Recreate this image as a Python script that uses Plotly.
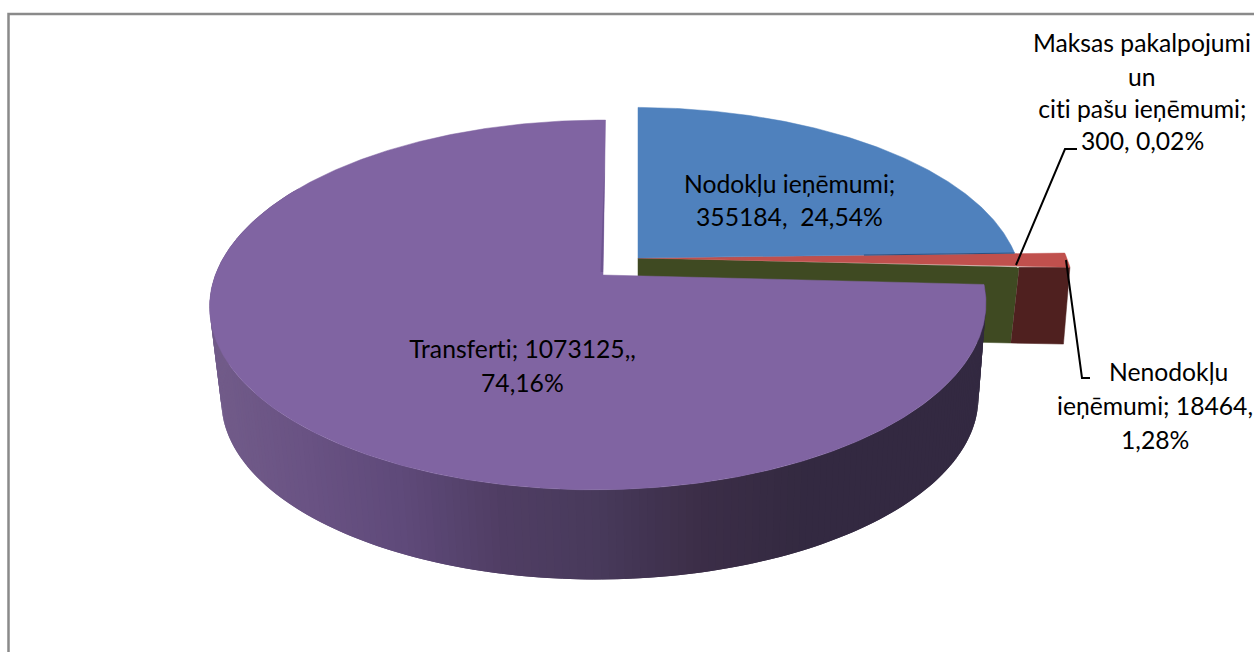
import numpy as np
import plotly.graph_objects as go

# Data (order as drawn, clockwise from 12 o'clock)
categories = ["Nodokļu ieņēmumi", "Nenodokļu ieņēmumi", "Maksas pakalpojumi un citi pašu ieņēmumi", "Transferti"]
values = [355184, 18464, 300, 1073125]

# Label lines (text, x, y)
label_text = ["Maksas pakalpojumi", "un", "citi pašu ieņēmumi;", "300, 0,02%",
              "Nodokļu ieņēmumi;", "355184,\u00a0 24,54%",
              "Transferti; 1073125,,", "74,16%",
              "Nenodokļu", "ieņēmumi; 18464,", "1,28%"]
label_x = [1142, 1142, 1142, 1142, 789, 789, 522, 522, 1168, 1155, 1155]
label_y = [42, 76, 108, 140, 183, 216, 348, 382, 371, 405, 439]

FONT = "Lato"
FS = 24.7
K, Q = 0.162, 0.012

# slice boundaries from the values
total = sum(values)
edges = 360 * np.concatenate([[0], np.cumsum(values)]) / total


def proj(theta, R, a, m=0.0):
    t = np.radians(theta)
    u, v = np.sin(t), np.cos(t)
    w = 1 + K * v + Q * u
    return (R * u + m * v) / w, a * v / w


def wedge(t0, t1, ax, ay, R, a, m=0.0):
    th = np.linspace(t0, t1, max(3, int(abs(t1 - t0) * 2)))
    X, Y = proj(th, R, a, m)
    return np.r_[ax, ax + X, ax], np.r_[ay, ay - Y, ay]


fig = go.Figure()


def poly(x, y, color, line=0.0):
    fig.add_trace(go.Scatter(x=x, y=y, mode="lines", fill="toself", fillcolor=color,
                             line=dict(color=color, width=line), hoverinfo="skip", showlegend=False))


def path(x, y, color, width):
    fig.add_trace(go.Scatter(x=x, y=y, mode="lines", line=dict(color=color, width=width),
                             hoverinfo="skip", showlegend=False))


# chart frame
path([8.5, 8.5, 1254], [652, 14, 14], "#8a8a8a", 2.5)

# exploded small slices
AX2, AY2 = 638, 258
t_blue, t_red, t_green = edges[1], edges[2], edges[3]

# green wall
gx, gy = proj(t_green, 383, 175)
poly([AX2, AX2 + gx, AX2 + 0.978 * gx, AX2, AX2],
     [AY2, AY2 - gy, AY2 + 76 - 0.978 * gy, AY2 + 76, AY2], "#3f4a22", 0.5)

# red outer side
th = np.linspace(t_blue + 0.5, t_green, 8)
rx, ry = proj(th, 434, 175)
bx, by = proj(t_green, 383, 175)
poly([AX2 + bx, AX2 + rx[-1], AX2 + 0.985 * rx[-1], AX2 + 0.978 * bx],
     [AY2 - by, AY2 - ry[-1], AY2 + 77 - 0.985 * ry[-1], AY2 + 76 - 0.978 * by], "#4f201f", 0.5)

# red top
x, y = wedge(t_blue, t_green, AX2, AY2, 434, 175)
poly(x, y, "#c0504d", 0.5)

# blue top
x, y = wedge(0, t_blue, AX2, AY2, 383, 175)
poly(x, y, "#4f81bd", 0.5)
path([AX2 + 0.6 * (x[-2] - AX2), x[-2]], [AY2 + 0.6 * (y[-2] - AY2), y[-2]], "#2b4f7e", 1)

# purple side with horizontal gradient
AX, AY = 603, 275
grad_x = [220, 300, 400, 500, 600, 700, 800, 980]
grad_r = [113, 106, 95, 80, 72, 60, 52, 51]
grad_g = [91, 83, 74, 62, 58, 46, 42, 41]
grad_b = [137, 132, 122, 100, 91, 72, 65, 65]
S, DX, DD = 0.975, 2, 95
ths = np.arange(edges[3], 300, 1.0)
for a0 in ths:
    tt = np.array([a0, a0 + 2.0])
    X, Y = proj(tt, 383, 180, 2.9)
    xs = np.r_[AX + X, AX + DX + S * X[::-1]]
    ys = np.r_[AY - Y, AY + DD - S * Y[::-1]]
    X0, _ = proj(a0 + 0.5, 383, 180, 2.9)
    mid = AX + X0
    c = "rgb(%d,%d,%d)" % (np.interp(mid, grad_x, grad_r), np.interp(mid, grad_x, grad_g), np.interp(mid, grad_x, grad_b))
    poly(xs, ys, c, 0)

# purple top
x, y = wedge(edges[3], 360, AX, AY, 383, 180, 2.9)
poly(x, y, "#8064a2", 0.5)

# purple inner wall sliver
ex, ey = proj(360.0, 383, 180, 2.9)
poly([AX + 0.82 * ex, AX + 0.02 * ex, AX + 0.02 * ex - 2.5],
     [AY - 0.8 * ey, AY - 0.02 * ey, AY - 0.02 * ey], "#6d5490", 0)

# leader lines
path([1016, 1065, 1077], [265, 149, 149], "#000000", 2)
path([1066, 1082, 1090], [260, 378, 378], "#000000", 2)

anns = [dict(x=a, y=b, text=t, showarrow=False, xanchor="center", yanchor="middle",
             font=dict(family=FONT, size=FS, color="#000000"))
        for t, a, b in zip(label_text, label_x, label_y)]

fig.update_layout(
    width=1254, height=652, margin=dict(l=0, r=0, t=0, b=0), autosize=False,
    paper_bgcolor="white", plot_bgcolor="white", showlegend=False, annotations=anns,
    xaxis=dict(range=[0, 1254], visible=False, domain=[0, 1], fixedrange=True),
    yaxis=dict(range=[652, 0], visible=False, domain=[0, 1], fixedrange=True),
)
fig.write_html("out.html", config={"displayModeBar": False},
               post_script="document.body.style.margin='0';document.querySelectorAll('svg text').forEach(function(t){t.style.fontFeatureSettings='\"liga\" 0, \"clig\" 0, \"dlig\" 0';t.style.fontVariantLigatures='none';});document.documentElement.style.overflow='hidden';")
